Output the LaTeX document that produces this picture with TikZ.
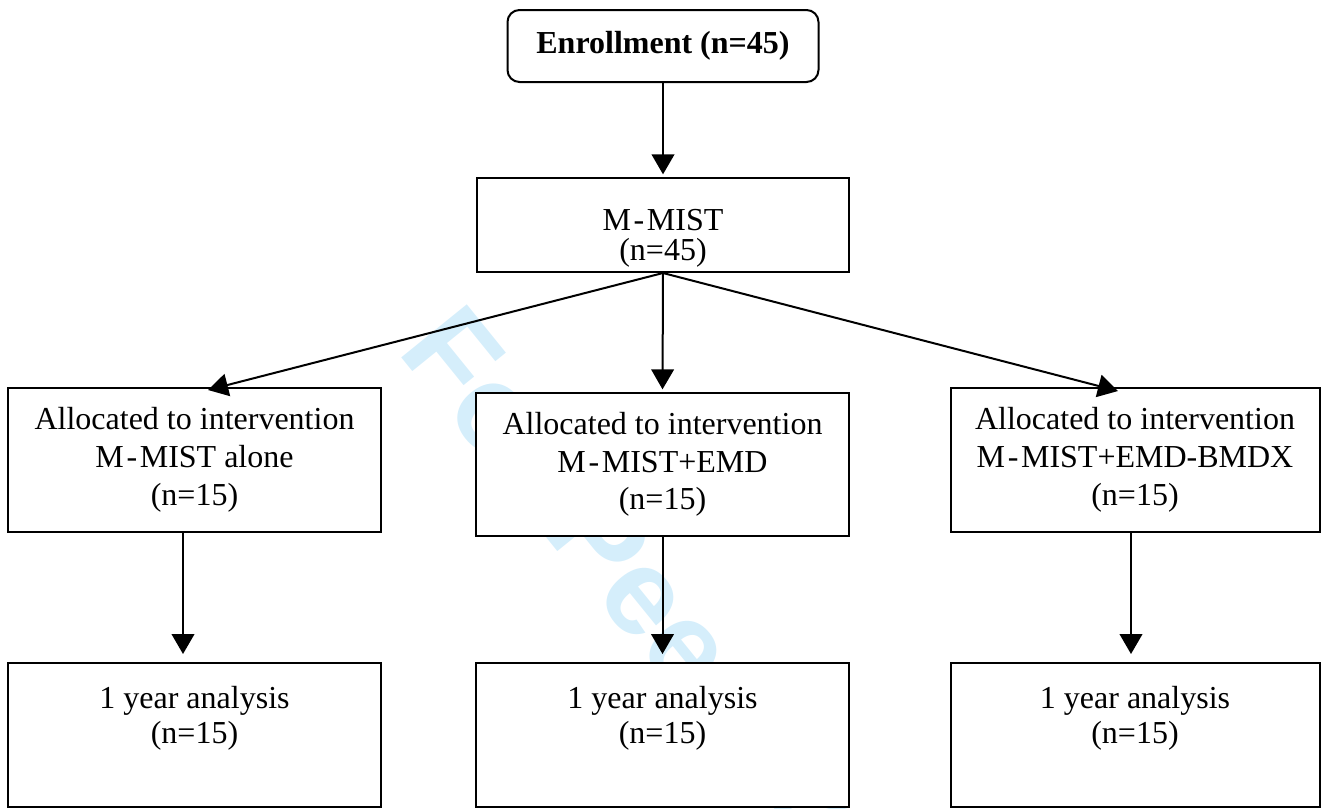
\documentclass[tikz,border=0pt]{standalone}
\usepackage{fontspec}
\setmainfont{Liberation Serif}
\newfontfamily\wmfont{Liberation Sans}
\usetikzlibrary{arrows.meta,calc}
\definecolor{wmblue}{RGB}{213,238,251}
\newcommand\mhy{\kern2pt-\kern2pt}
\tikzset{
  box/.style={draw=black, line width=1.5pt, fill=white, rectangle, align=center, inner sep=0pt,
    font=\fontsize{24pt}{28.5pt}\selectfont},
  arr/.style={line width=1.5pt, -{Triangle[length=15pt,width=17pt]}},
}
\begin{document}
\begin{tikzpicture}[x=0.75pt,y=-0.75pt]
\useasboundingbox (0,0) rectangle (1321,808);
% watermark
\node[anchor=base west, rotate=-51, inner sep=0pt, text=wmblue,
  font=\wmfont\bfseries\fontsize{92pt}{92pt}\selectfont] (wm) at (396,351) {For Peer Review};
% boxes
\node[box, rounded corners=9pt, minimum width=233.25pt, minimum height=54pt,
  font=\bfseries\fontsize{24pt}{28.5pt}\selectfont] (enroll) at (663,46) {Enrollment (n=45)};
\node[box, minimum width=279pt, minimum height=70.5pt,
  font=\fontsize{24pt}{22.5pt}\selectfont] (mmist) at (663,225) {\rule{0pt}{36pt}M\mhy MIST\\(n=45)};
\node[box, minimum width=279.75pt, minimum height=108pt] (left) at (194.5,460)
  {Allocated to intervention\\M\mhy MIST alone\\(n=15)};
\node[box, minimum width=279.75pt, minimum height=107.25pt,
  font=\fontsize{24pt}{28pt}\selectfont] (mid) at (662.5,464.5)
  {Allocated to intervention\\M\mhy MIST+EMD\\(n=15)};
\node[box, minimum width=276.75pt, minimum height=108pt] (right) at (1135,460)
  {Allocated to intervention\\M\mhy MIST+EMD-BMDX\\(n=15)};
\node[box, minimum width=279.75pt, minimum height=108pt,
  font=\fontsize{24pt}{26.25pt}\selectfont] (bl) at (194.5,735)
  {1 year analysis\\(n=15)\rule[-30pt]{0pt}{0pt}};
\node[box, minimum width=279.75pt, minimum height=108pt,
  font=\fontsize{24pt}{26.25pt}\selectfont] (bm) at (662.5,735)
  {1 year analysis\\(n=15)\rule[-30pt]{0pt}{0pt}};
\node[box, minimum width=276.75pt, minimum height=108pt,
  font=\fontsize{24pt}{26.25pt}\selectfont] (br) at (1135,735)
  {1 year analysis\\(n=15)\rule[-30pt]{0pt}{0pt}};
% connectors
\draw[arr, shorten >=2pt] (enroll.south) -- (mmist.north);
\draw[arr] (mmist.south) -- ($(left.north)+(13.5,3)$);
\draw[arr, shorten >=2pt] (mmist.south) -- (mid.north);
\draw[arr] (mmist.south) -- ($(right.north)+(-17,4)$);
\draw[arr, shorten >=6pt] ($(left.south)+(-11.5,0)$) -- ($(bl.north)+(-11.5,0)$);
\draw[arr, shorten >=6pt] (mid.south) -- (bm.north);
\draw[arr, shorten >=6pt] ($(right.south)+(-4,0)$) -- ($(br.north)+(-4,0)$);
\end{tikzpicture}
\end{document}
